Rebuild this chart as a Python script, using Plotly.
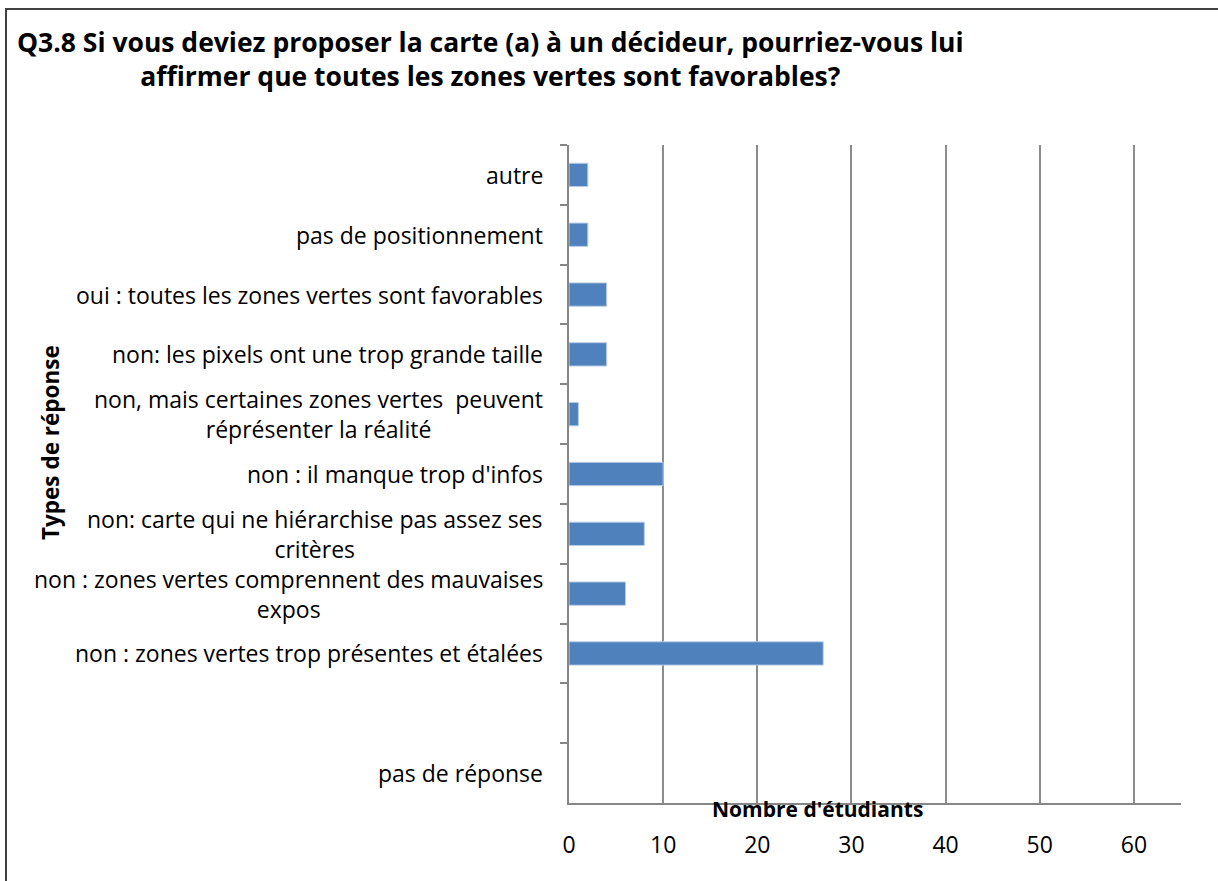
import plotly.graph_objects as go

# Response categories, listed top to bottom (blank slot kept as in the survey layout)
categories = [
    "autre",
    "pas de positionnement",
    "oui : toutes les zones vertes sont favorables",
    "non: les pixels ont une trop grande taille",
    "non, mais certaines zones vertes  peuvent<br>réprésenter la réalité",
    "non : il manque trop d'infos",
    "non: carte qui ne hiérarchise pas assez ses<br>critères",
    "non : zones vertes comprennent des mauvaises<br>expos",
    "non : zones vertes trop présentes et étalées",
    " ",
    "pas de réponse",
]
counts = [2, 2, 4, 4, 1, 10, 8, 6, 27, None, 0]
x_ticks = [0, 10, 20, 30, 40, 50, 60]

W, H = 1218, 881
L, R, T, B = 569, 37, 145, 78
pw, ph = W - L - R, H - T - B

FONT = "Open Sans"
LABEL_SIZE = 23

fig = go.Figure(
    go.Bar(
        x=counts,
        y=categories,
        orientation="h",
        marker=dict(
            color="#4F81BD",
            line=dict(color="#B9CDE5", width=[1 if v else 0 for v in counts]),
        ),
        hoverinfo="x+y",
    )
)

fig.update_layout(
    width=W,
    height=H,
    margin=dict(l=L, r=R, t=T, b=B, pad=0),
    paper_bgcolor="white",
    plot_bgcolor="white",
    bargap=0.61,
    showlegend=False,
    font=dict(family=FONT, size=LABEL_SIZE, color="#000000"),
)

fig.update_xaxes(
    range=[0, 65],
    tickvals=x_ticks,
    showgrid=True,
    gridcolor="#8C8C8C",
    gridwidth=1.5,
    showline=True,
    linecolor="#868686",
    linewidth=2,
    zeroline=False,
    ticks="",
    ticklabelstandoff=20,
    tickfont=dict(family=FONT, size=LABEL_SIZE, color="#000000"),
)

fig.update_yaxes(
    type="category",
    categoryorder="array",
    categoryarray=categories,
    autorange="reversed",
    showticklabels=False,
    showgrid=False,
    showline=True,
    linecolor="#868686",
    linewidth=2,
    ticks="outside",
    tickson="boundaries",
    ticklen=7,
    tickwidth=2,
    tickcolor="#868686",
)

annotations = []
# Category labels, right-aligned to the axis, wrapped lines centred on each other
for cat in categories:
    if not cat.strip():
        continue
    annotations.append(
        dict(
            x=0, xref="paper", y=cat, yref="y",
            xanchor="right", yanchor="middle", xshift=-24,
            text=cat, showarrow=False, align="center",
            font=dict(family=FONT, size=LABEL_SIZE, color="#000000"),
        )
    )

# Title
annotations.append(
    dict(
        x=(490 - L) / pw, xref="paper", y=(H - B - 59) / ph, yref="paper",
        xanchor="center", yanchor="middle",
        text="<b>Q3.8 Si vous deviez proposer la carte (a) à un décideur, pourriez-vous lui<br>affirmer que toutes les zones vertes sont favorables?</b>",
        showarrow=False, align="center",
        font=dict(family=FONT, size=26.5, color="#000000"),
    )
)
# Axis titles
annotations.append(
    dict(
        x=(817 - L) / pw, xref="paper", y=(H - B - 809) / ph, yref="paper",
        xanchor="center", yanchor="middle",
        text="<b>Nombre d'étudiants</b>", showarrow=False,
        font=dict(family=FONT, size=21, color="#000000"),
    )
)
annotations.append(
    dict(
        x=(50 - L) / pw, xref="paper", y=(H - B - 443) / ph, yref="paper",
        xanchor="center", yanchor="middle", textangle=-90,
        text="<b>Types de réponse</b>", showarrow=False,
        font=dict(family=FONT, size=22.5, color="#000000"),
    )
)
fig.update_layout(annotations=annotations)

# Outer chart frame
fig.add_shape(
    type="rect", xref="paper", yref="paper",
    x0=(6 - L) / pw, x1=(W + 20 - L) / pw,
    y0=(H - B - (H + 20)) / ph, y1=(H - B - 9) / ph,
    line=dict(color="#404040", width=2), fillcolor="rgba(0,0,0,0)", layer="below",
)

fig.write_html("out.html")
